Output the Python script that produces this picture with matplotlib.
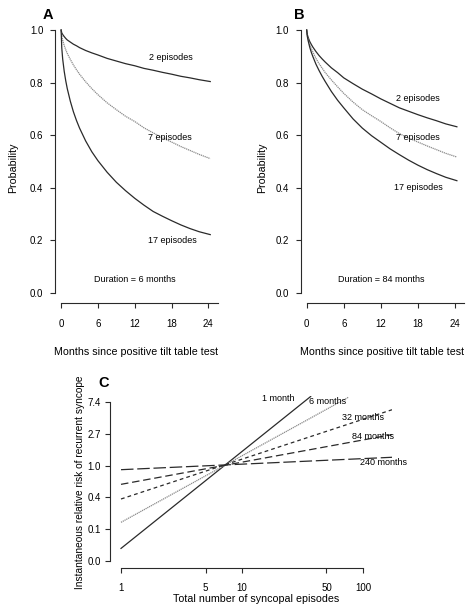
import numpy as np
import matplotlib
matplotlib.use("Agg")
import matplotlib.pyplot as plt
from matplotlib.ticker import FixedLocator, NullLocator

plt.rcParams["font.family"] = ["Liberation Sans", "DejaVu Sans"]

# months since test (panels A and B)
months = [0, 0.1, 0.25, 0.5, 0.75, 1, 1.5, 2, 2.5, 3, 4, 5, 6, 7.5, 9, 10.5,
          12, 13.5, 15, 16.5, 18, 19.5, 21, 22.5, 24.3]

# A: duration = 6 months
a_2 = [1.0, 0.989, 0.983, 0.975, 0.968, 0.962, 0.954, 0.946, 0.940, 0.933,
       0.922, 0.913, 0.905, 0.892, 0.882, 0.872, 0.864, 0.854, 0.847, 0.839,
       0.832, 0.824, 0.818, 0.811, 0.804]
a_7 = [1.0, 0.978, 0.961, 0.941, 0.925, 0.911, 0.888, 0.867, 0.849, 0.832,
       0.803, 0.777, 0.754, 0.723, 0.697, 0.672, 0.652, 0.628, 0.609, 0.590,
       0.574, 0.557, 0.542, 0.527, 0.511]
a_17 = [1.0, 0.933, 0.890, 0.843, 0.807, 0.777, 0.729, 0.689, 0.656, 0.627,
        0.578, 0.537, 0.503, 0.459, 0.421, 0.389, 0.360, 0.334, 0.310, 0.292,
        0.275, 0.259, 0.245, 0.233, 0.222]

# B: duration = 84 months
b_2 = [1.0, 0.983, 0.971, 0.956, 0.945, 0.935, 0.918, 0.903, 0.890, 0.878,
       0.856, 0.838, 0.818, 0.796, 0.775, 0.757, 0.738, 0.721, 0.704, 0.691,
       0.678, 0.666, 0.655, 0.643, 0.632]
b_7 = [1.0, 0.980, 0.964, 0.945, 0.929, 0.916, 0.892, 0.872, 0.855, 0.838,
       0.810, 0.784, 0.759, 0.726, 0.697, 0.674, 0.652, 0.628, 0.606, 0.589,
       0.574, 0.559, 0.545, 0.531, 0.517]
b_17 = [1.0, 0.976, 0.958, 0.934, 0.915, 0.899, 0.870, 0.846, 0.824, 0.804,
        0.766, 0.733, 0.704, 0.662, 0.627, 0.598, 0.573, 0.548, 0.526, 0.505,
        0.486, 0.469, 0.454, 0.440, 0.427]

# C: relative risk vs total number of episodes (straight lines on log-log)
c_labels = ["1 month", "6 months", "32 months", "84 months", "240 months"]
c_x = [[1, 37], [1, 76], [1, 174], [1, 174], [1, 174]]
c_rr = [[0.074, 8.8], [0.168, 8.6], [0.35, 5.8], [0.555, 2.65], [0.88, 1.3]]

W, H = 474, 614
fig = plt.figure(figsize=(W / 100, H / 100), dpi=100)


def rect(x0, y0, x1, y1):
    return [x0 / W, 1 - y1 / H, (x1 - x0) / W, (y1 - y0) / H]


def ftext(x, y, s, **kw):
    fig.text(x / W, 1 - y / H, s, ha="center", va="center", **kw)


dark = "#2a2a2a"
grey = "#8a8a8a"
lw = 0.9
tick_fs = 7
lab_fs = 7.7
note_fs = 6.5


def style_axes(ax):
    for s in ["top", "right"]:
        ax.spines[s].set_visible(False)
    for s in ["left", "bottom"]:
        ax.spines[s].set_linewidth(0.8)
        ax.spines[s].set_color(dark)
    ax.tick_params(direction="out", length=3.5, width=0.8, colors=dark,
                   labelsize=tick_fs, labelcolor="black")
    ax.patch.set_alpha(0)


def survival_panel(rect_px, s2, s7, s17, duration):
    ax = fig.add_axes(rect(*rect_px))
    ax.plot(months, s2, color=dark, lw=lw)
    ax.plot(months, s7, color=grey, lw=lw, ls=(0, (1, 0.6)))
    ax.plot(months, s17, color=dark, lw=lw)
    ax.set_xlim(-1.0, 25.5)
    ax.set_ylim(-0.038, 1.038)
    ax.set_xticks([0, 6, 12, 18, 24])
    ax.set_yticks([0.0, 0.2, 0.4, 0.6, 0.8, 1.0])
    ax.set_yticklabels(["0.0", "0.2", "0.4", "0.6", "0.8", "1.0"])
    ax.spines["left"].set_bounds(0, 1)
    ax.spines["bottom"].set_bounds(0, 25.5)
    style_axes(ax)
    ax.tick_params(axis="x", pad=8)
    ax.tick_params(axis="y", pad=5)
    ax.text(12, 0.05, "Duration = %d months" % duration, ha="center",
            va="center", fontsize=note_fs)
    return ax


ax_a = survival_panel((55, 20, 217.6, 303), a_2, a_7, a_17, 6)
ax_a.text(17.9, 0.897, "2 episodes", ha="center", va="center", fontsize=note_fs)
ax_a.text(17.8, 0.593, "7 episodes", ha="center", va="center", fontsize=note_fs)
ax_a.text(18.1, 0.20, "17 episodes", ha="center", va="center", fontsize=note_fs)

ax_b = survival_panel((300.5, 20, 464.3, 303), b_2, b_7, b_17, 84)
ax_b.text(18.0, 0.741, "2 episodes", ha="center", va="center", fontsize=note_fs)
ax_b.text(18.0, 0.593, "7 episodes", ha="center", va="center", fontsize=note_fs)
ax_b.text(18.0, 0.40, "17 episodes", ha="center", va="center", fontsize=note_fs)

ftext(13, 168, "Probability", rotation=90, fontsize=lab_fs)
ftext(262, 168, "Probability", rotation=90, fontsize=lab_fs)
ftext(136, 352, "Months since positive tilt table test", fontsize=lab_fs)
ftext(382, 352, "Months since positive tilt table test", fontsize=lab_fs)
ftext(48, 15, "A", fontsize=10.5, fontweight="bold")
ftext(299, 15, "B", fontsize=10.5, fontweight="bold")

# panel C
ax_c = fig.add_axes(rect(110, 396, 392, 568))
c_styles = ["-", (0, (1, 0.6)), (0, (3, 2.5)), (0, (6, 3)), (0, (10, 3))]
c_colors = [dark, grey, dark, dark, dark]
for xs, rr, st, col in zip(c_x, c_rr, c_styles, c_colors):
    ax_c.plot(xs, rr, color=col, lw=lw, ls=st)
ax_c.set_xscale("log")
ax_c.set_yscale("log")
ax_c.set_xlim(10 ** -0.091, 174)
ax_c.set_ylim(np.exp(-3.22), np.exp(2.19))
ax_c.xaxis.set_major_locator(FixedLocator([1, 5, 10, 50, 100]))
ax_c.xaxis.set_minor_locator(NullLocator())
ax_c.set_xticklabels(["1", "5", "10", "50", "100"])
y_ticks = np.exp(np.arange(-3, 3))
ax_c.yaxis.set_major_locator(FixedLocator(y_ticks))
ax_c.yaxis.set_minor_locator(NullLocator())
ax_c.set_yticklabels(["%.1f" % v for v in y_ticks])
ax_c.spines["left"].set_bounds(y_ticks[0], y_ticks[-1])
ax_c.spines["bottom"].set_bounds(1, 100)
style_axes(ax_c)
ax_c.tick_params(axis="x", pad=7)
ax_c.tick_params(axis="y", pad=3)

c_text_pos = [(19.9, 8.2), (51.4, 7.47), (100, 4.52), (121, 2.49), (149, 1.10)]
for lab, (tx, ty) in zip(c_labels, c_text_pos):
    ax_c.text(tx, ty, lab, ha="center", va="center", fontsize=note_fs)

ftext(104, 383, "C", fontsize=10.5, fontweight="bold")
ftext(256, 599, "Total number of syncopal episodes", fontsize=lab_fs)
ftext(80, 482, "Instantaneous relative risk of recurrent syncope",
      rotation=90, fontsize=7.3)

fig.savefig("out.png", dpi=100)
